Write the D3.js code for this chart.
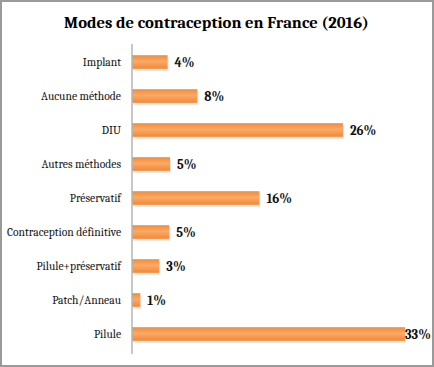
<!DOCTYPE html>
<html><head><meta charset="utf-8">
<script src="https://cdn.jsdelivr.net/npm/d3@7/dist/d3.min.js"></script>
<style>body{margin:0;background:#fff}svg{display:block}</style>
</head><body>
<svg id="chart" width="434" height="367"></svg>
<script>
const categories = ["Implant","Aucune méthode","DIU","Autres méthodes","Préservatif","Contraception définitive","Pilule+préservatif","Patch/Anneau","Pilule"];
const values = [4.3, 7.9, 25.5, 4.6, 15.4, 4.5, 3.3, 1.0, 33.0];
const valueLabels = ["4%","8%","26%","5%","16%","5%","3%","1%","33%"];
const title = "Modes de contraception en France (2016)";

const W = 434, H = 367;
const svg = d3.select("#chart");
const defs = svg.append("defs");
const g1 = defs.append("linearGradient").attr("id","barg").attr("x1",0).attr("y1",0).attr("x2",0).attr("y2",1);
g1.append("stop").attr("offset","0%").attr("stop-color","#F48A38");
g1.append("stop").attr("offset","45%").attr("stop-color","#FBAA66");
g1.append("stop").attr("offset","100%").attr("stop-color","#F38735");

svg.append("rect").attr("x",1).attr("y",1).attr("width",W-2).attr("height",H-2)
  .attr("fill","#fff").attr("stroke","#9a9a9a").attr("stroke-width",2);

const t = svg.append("text").attr("x",216.5).attr("y",28).attr("text-anchor","middle")
  .attr("font-family","Cambria, 'Liberation Serif', serif").attr("font-weight","bold")
  .attr("font-size",18).attr("fill","#000").text(title);
const tw = t.node().getComputedTextLength();
t.attr("font-size", 18 * 305 / tw);

const x0 = 132, x1 = 405;
const x = d3.scaleLinear().domain([0, 33]).range([x0, x1]);
const y = d3.scaleBand().domain(categories).range([45, 351]).paddingInner(0.6).paddingOuter(0.3);

// bars with shadow
svg.append("g").selectAll("rect").data(values).join("rect")
  .attr("x", x0 + 1).attr("y", (d,i) => y(categories[i]) + 2)
  .attr("width", d => x(d) - x0).attr("height", y.bandwidth())
  .attr("fill","#d8d8d8").attr("opacity",0.6);
svg.append("g").selectAll("rect").data(values).join("rect")
  .attr("x", x0).attr("y", (d,i) => y(categories[i]))
  .attr("width", d => x(d) - x0).attr("height", y.bandwidth())
  .attr("fill","url(#barg)");

// axis
const ax = svg.append("g").attr("transform",`translate(${x0},0)`)
  .call(d3.axisLeft(y).tickSize(0).tickPadding(11));
ax.select(".domain").attr("stroke","#b5b5b5").attr("stroke-width",1.5)
  .attr("d","M0,44V354");
ax.selectAll("text").attr("font-family","Cambria, 'Liberation Serif', serif")
  .attr("font-size",11.6).attr("fill","#111");

// value labels
svg.append("g").selectAll("text").data(values).join("text")
  .attr("x", d => { const e = x(d) + 7; return e + 24 > W - 2 ? x(d) : e; })
  .attr("y", (d,i) => y(categories[i]) + y.bandwidth()/2)
  .attr("dy","0.35em")
  .attr("font-family","Cambria, 'Liberation Serif', serif").attr("font-weight","bold")
  .attr("font-size",13).attr("fill","#111")
  .text((d,i) => valueLabels[i]);
</script>
</body></html>
